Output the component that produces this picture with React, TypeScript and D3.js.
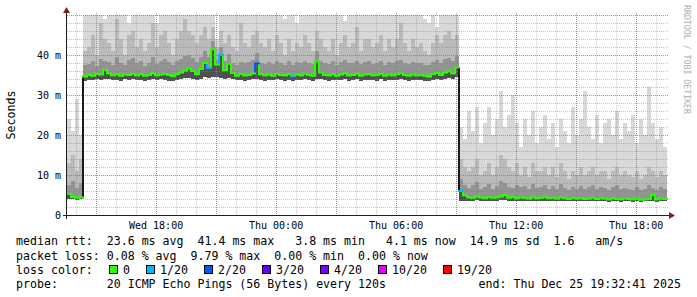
import React from 'react';
import * as d3 from 'd3';

const W = 697;
const H = 297;
const END = new Date(2025, 11, 25, 19, 32, 41);
const START = new Date(END.getTime() - 30 * 3600 * 1000);
const STEP_MIN = 12;

const yTicks = [0, 10, 20, 30, 40];
const yTickLabels = ['0', '10 m', '20 m', '30 m', '40 m'];

// per-column (12 min) smoke statistics, milliseconds
const medianRtt = [
  5.3, 4.5, 4.3, 4.4, 34.6, 35.0, 34.8, 35.3, 35.1, 36.3,
  35.4, 34.9, 35.2, 34.8, 35.1, 35.0, 35.3, 34.9, 35.2, 34.8,
  35.0, 35.4, 34.9, 35.1, 35.3, 35.0, 34.7, 35.2, 35.6, 36.1,
  36.6, 36.0, 35.2, 36.5, 38.0, 36.8, 41.4, 37.6, 40.0, 36.2,
  37.8, 35.5, 34.8, 35.3, 34.9, 35.0, 35.4, 37.9, 35.2, 34.9,
  35.1, 34.8, 35.3, 35.0, 34.9, 35.2, 34.7, 35.1, 34.9, 35.3,
  35.0, 34.8, 38.4, 35.6, 35.0, 34.9, 35.2, 34.8, 35.1, 35.4,
  34.9, 35.0, 35.3, 34.8, 35.1, 35.2, 34.9, 35.0, 35.3, 34.8,
  35.1, 34.9, 35.2, 35.4, 35.0, 34.8, 35.1, 34.9, 35.0, 34.8,
  34.6, 35.2, 35.5, 35.0, 35.6, 35.9, 35.4, 36.9, 6.0, 4.9,
  4.4, 4.3, 4.6, 4.4, 4.2, 4.5, 4.3, 4.4, 4.6, 5.0,
  4.3, 4.5, 4.2, 4.4, 4.3, 4.1, 4.4, 4.2, 4.3, 4.5,
  4.2, 4.3, 4.1, 4.4, 4.2, 4.0, 4.3, 4.1, 4.2, 4.0,
  4.1, 4.3, 4.0, 4.2, 4.1, 3.9, 4.2, 4.0, 3.9, 4.1,
  4.0, 3.9, 4.1, 3.8, 3.9, 4.0, 5.0, 3.9, 4.1, 4.0,
];
const minRtt = [
  4.0, 3.9, 3.8, 3.9, 33.5, 33.8, 33.7, 34.0, 33.8, 34.1,
  33.9, 33.7, 33.8, 33.6, 33.9, 33.8, 34.0, 33.7, 33.8, 33.6,
  33.8, 34.0, 33.7, 33.9, 33.8, 33.6, 33.5, 33.8, 34.0, 34.2,
  34.3, 34.0, 33.8, 34.1, 34.4, 34.2, 34.5, 34.6, 34.3, 34.0,
  34.2, 33.9, 33.7, 33.8, 33.6, 33.7, 33.9, 34.0, 33.8, 33.6,
  33.8, 33.7, 33.9, 33.8, 33.6, 33.8, 33.5, 33.7, 33.8, 33.9,
  33.7, 33.6, 34.0, 33.9, 33.7, 33.6, 33.8, 33.7, 33.8, 33.9,
  33.6, 33.7, 33.9, 33.6, 33.8, 33.8, 33.7, 33.6, 33.9, 33.6,
  33.8, 33.7, 33.8, 34.0, 33.7, 33.6, 33.8, 33.7, 33.8, 33.6,
  33.5, 33.8, 34.0, 33.7, 34.0, 34.2, 34.0, 34.6, 3.6, 3.6,
  3.5, 3.6, 3.7, 3.5, 3.4, 3.6, 3.5, 3.6, 3.7, 3.8,
  3.5, 3.6, 3.5, 3.6, 3.5, 3.4, 3.6, 3.5, 3.5, 3.6,
  3.5, 3.5, 3.4, 3.6, 3.5, 3.4, 3.5, 3.4, 3.5, 3.4,
  3.4, 3.5, 3.4, 3.5, 3.4, 3.3, 3.5, 3.4, 3.3, 3.4,
  3.4, 3.3, 3.5, 3.3, 3.4, 3.5, 3.6, 3.3, 3.4, 3.4,
];
const p60Rtt = [
  7.5, 8.5, 6.8, 8.0, 37.5, 37.8, 38.5, 37.2, 39.0, 38.6,
  38.2, 37.6, 39.4, 38.0, 37.5, 38.8, 39.2, 37.9, 38.4, 37.3,
  38.1, 39.5, 37.8, 38.6, 39.0, 38.2, 37.4, 38.5, 39.1, 39.8,
  40.0, 39.2, 38.3, 39.6, 41.0, 39.5, 43.5, 38.8, 42.0, 38.4,
  40.2, 38.0, 37.6, 38.3, 37.9, 38.2, 38.7, 40.5, 38.0, 37.7,
  38.3, 37.8, 38.6, 38.0, 37.6, 38.4, 37.5, 38.2, 37.9, 38.5,
  38.0, 37.7, 41.0, 38.5, 38.1, 37.8, 38.4, 37.6, 38.2, 38.7,
  37.9, 38.1, 38.6, 37.7, 38.3, 38.4, 37.8, 38.0, 38.5, 37.6,
  38.2, 37.9, 38.4, 38.8, 38.0, 37.7, 38.3, 37.9, 38.1, 37.6,
  37.5, 38.3, 38.8, 38.1, 38.9, 39.2, 38.6, 39.8, 9.0, 7.5,
  6.8, 7.4, 8.2, 6.5, 7.0, 7.8, 6.6, 7.2, 8.5, 8.0,
  7.1, 6.8, 7.6, 6.9, 7.3, 6.5, 7.8, 6.7, 7.0, 7.5,
  6.6, 7.2, 6.4, 7.7, 6.8, 6.3, 7.0, 6.5, 7.3, 6.6,
  6.9, 7.4, 6.5, 7.1, 6.8, 6.2, 7.0, 7.5, 6.4, 6.8,
  6.5, 6.3, 7.0, 6.2, 6.6, 7.6, 6.8, 6.3, 6.9, 6.5,
];
const p80Rtt = [
  13, 15, 11, 14, 41, 42, 45, 40, 48, 44,
  43, 41, 49, 44, 40, 45, 46, 42, 44, 41,
  43, 48, 42, 45, 46, 43, 40, 44, 46, 49,
  46, 45, 43, 45, 47, 44, 47, 42, 46, 43,
  45, 42, 41, 48, 43, 42, 45, 46, 43, 42,
  44, 41, 45, 43, 40, 44, 41, 43, 42, 45,
  43, 41, 46, 44, 42, 41, 44, 40, 43, 45,
  42, 43, 47, 41, 44, 44, 42, 43, 45, 41,
  44, 42, 44, 48, 43, 41, 44, 42, 43, 41,
  40, 43, 45, 43, 45, 46, 44, 45, 14, 12,
  11, 12, 14, 10, 11, 13, 10, 12, 15, 14,
  12, 11, 13, 10, 12, 9.5, 13, 11, 11, 12,
  10, 12, 9.5, 13, 11, 9, 11, 10, 12, 10,
  11, 12, 10, 11, 11, 9, 11, 12, 10, 11,
  10, 9.5, 11, 9, 10, 12, 11, 9.5, 11, 10,
];
const maxRtt = [
  24, 21, 29, 20, 52, 52, 55, 51, 54, 49,
  55, 52, 53, 50, 54, 48, 55, 52, 53, 51,
  55, 52, 48, 51, 53, 55, 50, 52, 54, 53,
  55, 54, 52, 53, 55, 52, 50, 44, 53, 54,
  55, 52, 51, 54, 53, 52, 55, 54, 52, 51,
  53, 51, 54, 52, 49, 53, 51, 48, 52, 55,
  53, 52, 55, 53, 51, 50, 54, 51, 53, 48.5,
  52, 54, 55, 51, 53, 52, 54, 50, 55, 52,
  53, 51, 55, 54, 52, 51, 53, 52, 54, 49,
  48, 52, 47, 53, 55, 54, 52, 53, 22, 19,
  26, 21, 27, 18, 23, 27, 20, 24, 31, 22,
  25, 30, 23, 17, 24, 20, 26, 18, 22, 25,
  19, 23, 17, 24, 21, 18, 27, 20, 24, 31,
  22, 19, 25, 18, 23, 24, 20, 26, 19, 23,
  21, 25, 18, 24, 20, 32, 23, 19, 22, 17,
];
// lost pings out of 20, per column
const lossCount = [
  0, 0, 0, 0, 0, 0, 0, 0, 0, 0,
  0, 0, 0, 0, 0, 0, 0, 0, 0, 0,
  0, 0, 0, 0, 0, 0, 0, 0, 0, 0,
  0, 0, 0, 0, 0, 1, 0, 0, 1, 0,
  0, 0, 0, 0, 0, 0, 0, 2, 0, 0,
  0, 0, 0, 0, 0, 0, 1, 0, 0, 0,
  0, 0, 0, 0, 0, 0, 0, 0, 0, 0,
  0, 0, 0, 0, 0, 0, 0, 0, 0, 0,
  0, 0, 0, 0, 0, 0, 0, 0, 0, 0,
  0, 0, 0, 0, 0, 0, 0, 0, 1, 0,
  0, 0, 0, 0, 0, 0, 0, 0, 0, 0,
  0, 0, 0, 0, 0, 0, 0, 0, 0, 0,
  0, 0, 0, 0, 0, 0, 0, 0, 0, 0,
  0, 0, 0, 0, 0, 0, 0, 0, 0, 0,
  0, 0, 0, 0, 0, 0, 0, 0, 0, 0,
];

const lossLevels = [0, 1, 2, 3, 4, 10, 19];
const lossLabels = ['0', '1/20', '2/20', '3/20', '4/20', '10/20', '19/20'];
const lossColors = ['#26ff00', '#00b8ff', '#0059ff', '#5e00ff', '#7e00ff', '#dd00ff', '#ff0000'];

const legendLine1 = 'median rtt:  23.6 ms avg  41.4 ms max   3.8 ms min   4.1 ms now  14.9 ms sd  1.6   am/s';
const legendLine2 = 'packet loss: 0.08 % avg  9.79 % max  0.00 % min  0.00 % now';
const legendLossTitle = 'loss color:';
const legendProbe = 'probe:       20 ICMP Echo Pings (56 Bytes) every 120s';
const legendEnd = 'end: Thu Dec 25 19:32:41 2025';
const watermark = 'RRDTOOL / TOBI OETIKER';

const MONO = '"DejaVu Sans Mono", "Liberation Mono", monospace';

function lossColor(n: number) {
  let c = lossColors[0];
  lossLevels.forEach((l, i) => {
    if (n >= l) c = lossColors[i];
  });
  return c;
}

function T(props: any) {
  return <text xmlSpace="preserve" style={{ whiteSpace: 'pre' }} {...props} />;
}

export default function App() {
  const X0 = 67, X1 = 667, Y0 = 215, Y1 = 15;
  const x = d3.scaleTime().domain([START, END]).range([X0, X1]);
  const y = d3.scaleLinear().domain([0, 50]).range([Y0, Y1]);
  const colT = (i: number) => new Date(START.getTime() + i * STEP_MIN * 60000);
  const n = medianRtt.length;
  const cols = d3.range(n).map((i) => ({
    x0: x(colT(i)),
    x1: Math.min(X1, x(colT(i + 1))),
    i,
  }));

  const minorX = x.ticks(d3.timeHour.every(1)!);
  const majorX = x.ticks(d3.timeHour.every(3)!);
  const labelX = x.ticks(d3.timeHour.every(6)!);
  const fmt = d3.timeFormat('%a %H:%M');
  const minorY = d3.range(0, 51, 2);
  const majorY = d3.range(0, 51, 10);
  const px = (v: number) => Math.round(v) + 0.5;

  const layers = [
    { top: maxRtt, color: '#d8d8d8' },
    { top: p80Rtt, color: '#bababa' },
    { top: p60Rtt, color: '#939393' },
    { top: medianRtt, color: '#505050' },
  ];

  let lx = 109;
  const legendItems = lossLabels.map((lab, k) => {
    const item = { x: lx, label: lab, color: lossColors[k] };
    lx += 30 + 7 * lab.length;
    return item;
  });

  return (
    <svg width={W} height={H} style={{ display: 'block', position: 'absolute', left: 0, top: 0, background: '#fff' }}>
      <rect x={0} y={0} width={W} height={H} fill="#fff" />
      <defs>
        <clipPath id="plot">
          <rect x={X0} y={Y1} width={X1 - X0 + 2} height={Y0 - Y1} />
        </clipPath>
      </defs>
      <g clipPath="url(#plot)" shapeRendering="crispEdges">
        {layers.map((L, li) => (
          <g key={li}>
            {cols.map((c) => {
              const top = y(L.top[c.i]);
              const bot = y(minRtt[c.i]);
              return <rect key={c.i} x={c.x0} width={c.x1 - c.x0} y={top} height={Math.max(0, bot - top)} fill={L.color} />;
            })}
          </g>
        ))}
      </g>
      <g strokeDasharray="1,1" strokeWidth={1} shapeRendering="crispEdges">
        {minorY.map((v) => (
          <line key={'my' + v} x1={X0} x2={X1 + 2} y1={px(y(v))} y2={px(y(v))} stroke="rgba(128,128,128,0.45)" />
        ))}
        {minorX.map((t, k) => (
          <line key={'mx' + k} x1={px(x(t))} x2={px(x(t))} y1={Y1 - 2} y2={Y0} stroke="rgba(128,128,128,0.45)" />
        ))}
        {majorY.map((v) => (
          <line key={'My' + v} x1={X0} x2={X1 + 2} y1={px(y(v))} y2={px(y(v))} stroke="rgba(224,80,80,0.6)" />
        ))}
        {majorX.map((t, k) => (
          <line key={'Mx' + k} x1={px(x(t))} x2={px(x(t))} y1={Y1 - 2} y2={Y0} stroke="rgba(224,80,80,0.6)" />
        ))}
      </g>
      <g clipPath="url(#plot)">
        {cols.slice(0, -1).map((c) => {
          const ya = y(medianRtt[c.i]);
          const yb = y(medianRtt[c.i + 1]);
          const big = Math.abs(medianRtt[c.i] - medianRtt[c.i + 1]) > 5;
          return (
            <line key={'c' + c.i} x1={c.x1} x2={c.x1} y1={ya} y2={yb}
              stroke={big ? '#1a1a1a' : lossColor(lossCount[c.i + 1])} strokeWidth={2} />
          );
        })}
        {cols.map((c) => (
          <line key={'s' + c.i} x1={c.x0 - 1} x2={c.x1 + 1} y1={y(medianRtt[c.i])} y2={y(medianRtt[c.i])}
            stroke={lossColor(lossCount[c.i])} strokeWidth={2} />
        ))}
      </g>
      <g shapeRendering="crispEdges">
        <line x1={X0 - 4} x2={X1 + 3} y1={Y0 + 0.5} y2={Y0 + 0.5} stroke="#1f1f1f" />
        <line x1={X0 - 0.5} x2={X0 - 0.5} y1={Y0 + 4} y2={10} stroke="#1f1f1f" />
      </g>
      <path d={`M${X0 - 4},${13} L${X0 + 3},${13} L${X0 - 0.5},${7} Z`} fill="#7f1f1f" />
      <path d={`M${X1 + 2},${Y0 - 3} L${X1 + 2},${Y0 + 4} L${X1 + 8},${Y0 + 0.5} Z`} fill="#7f1f1f" />
      <g fontFamily={MONO} fontSize={10} fill="#000" textAnchor="end">
        {yTicks.map((v, k) => (
          <T key={v} x={61} y={y(v) + 3.5}>{yTickLabels[k]}</T>
        ))}
      </g>
      <g fontFamily={MONO} fontSize={10} fill="#000" textAnchor="middle">
        {labelX.map((t, k) => (
          <T key={k} x={x(t)} y={229}>{fmt(t)}</T>
        ))}
      </g>
      <text fontFamily={MONO} fontSize={11.6} fill="#000" textAnchor="middle"
        transform={`translate(15,115) rotate(-90)`}>Seconds</text>
      <text fontFamily={MONO} fontSize={8.4} fill="#b0b0b0" textAnchor="start"
        textLength={109} lengthAdjust="spacingAndGlyphs"
        transform={`translate(684,5) rotate(90)`}>{watermark}</text>
      <g fontFamily={MONO} fontSize={11.6} fill="#000">
        <T x={16} y={245}>{legendLine1}</T>
        <T x={16} y={259.5}>{legendLine2}</T>
        <T x={16} y={273.5}>{legendLossTitle}</T>
        {legendItems.map((it) => (
          <g key={it.label}>
            <rect x={it.x + 0.5} y={265.5} width={8} height={8} fill={it.color} stroke="#000" />
            <T x={it.x + 14} y={273.5}>{it.label}</T>
          </g>
        ))}
        <T x={16} y={287.5}>{legendProbe}</T>
        <T x={681} y={287.5} textAnchor="end">{legendEnd}</T>
      </g>
    </svg>
  );
}
